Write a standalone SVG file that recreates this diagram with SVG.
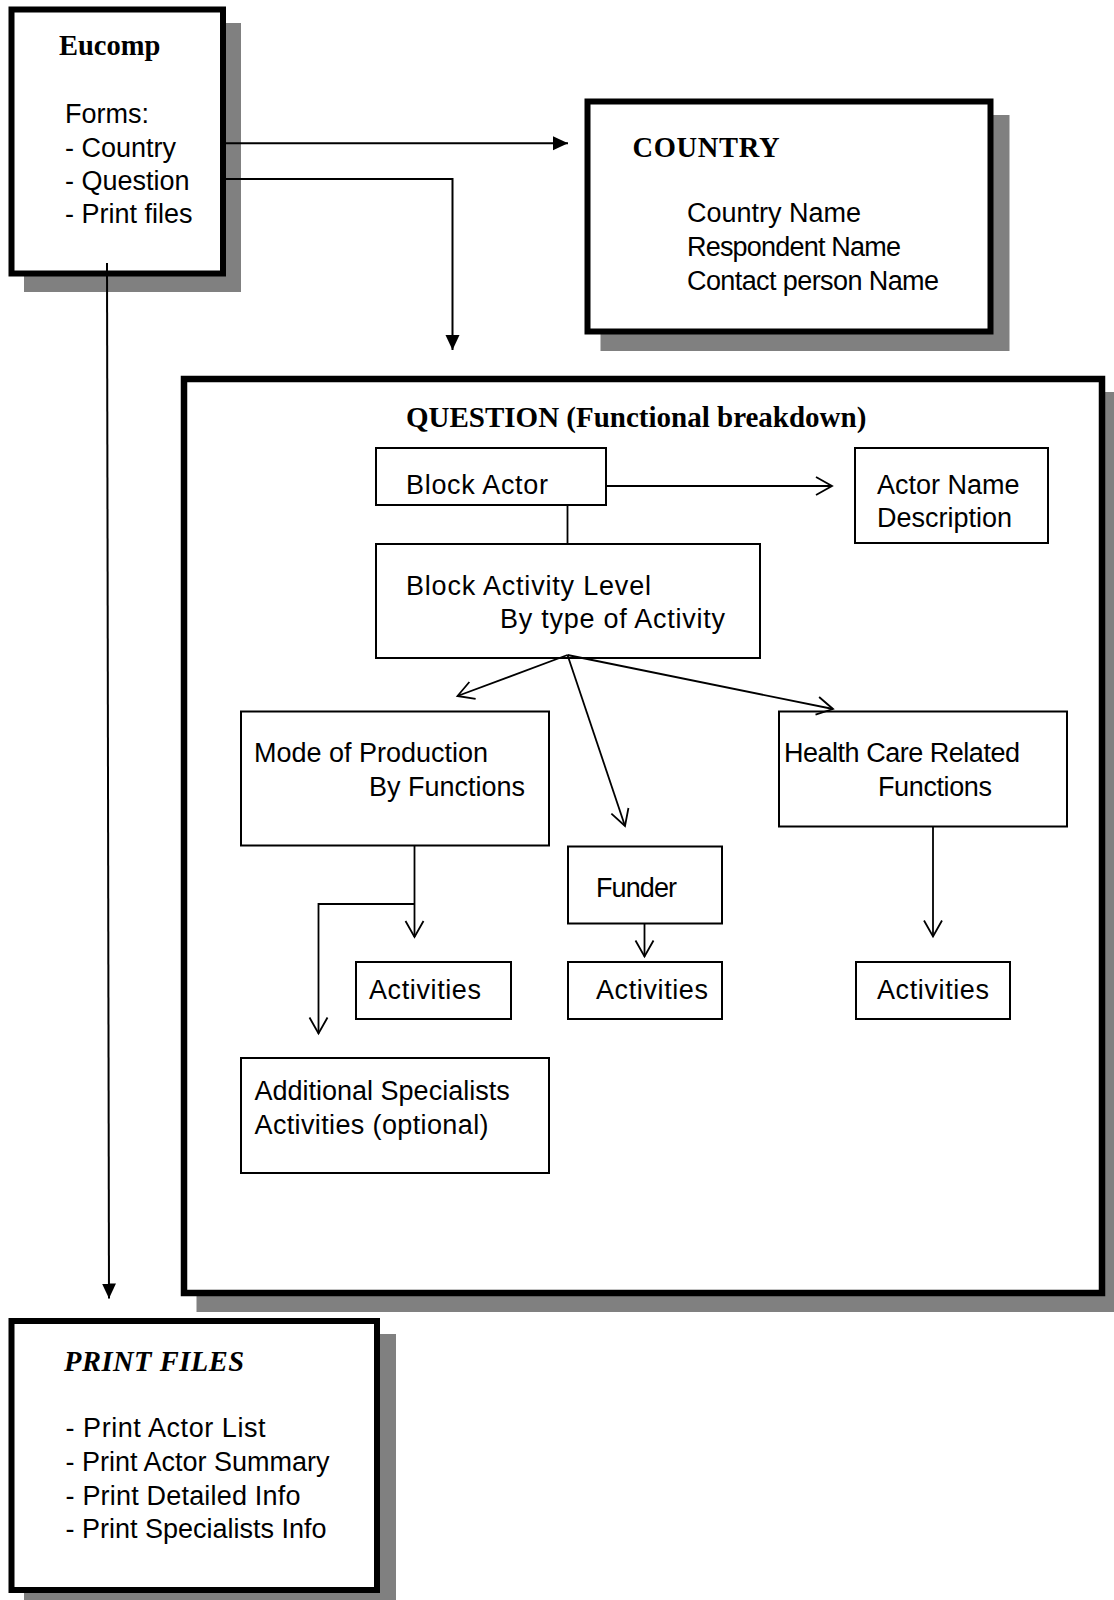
<svg xmlns="http://www.w3.org/2000/svg" width="1114" height="1600" viewBox="0 0 1114 1600">
<style>
.shadow{fill:#808080}
.thick{fill:#fff;stroke:#000;stroke-width:6}
.box{fill:#fff;stroke:#000;stroke-width:2}
.title{font-family:"Liberation Serif","Times New Roman",serif;font-weight:bold;font-size:28.5px;fill:#000}
.t{font-family:"Liberation Sans",Arial,sans-serif;font-size:27px;fill:#000}
.outer{stroke:#000;stroke-width:2;fill:none}
.inner{stroke:#000;stroke-width:1.8;fill:none}
</style>
<defs>
<marker id="fa" markerUnits="userSpaceOnUse" markerWidth="18" markerHeight="16" refX="15" refY="7" orient="auto">
<path d="M0,0 L15,7 L0,14 z" fill="#000"/>
</marker>
<marker id="oa" markerUnits="userSpaceOnUse" markerWidth="20" markerHeight="22" refX="17" refY="10" orient="auto">
<path d="M1,1 L17,10 L1,19" fill="none" stroke="#000" stroke-width="1.8"/>
</marker>
</defs>
<rect x="0" y="0" width="1114" height="1600" fill="#fff"/>

<g id="eucomp">
<rect class="shadow" x="24" y="23" width="217" height="269"/>
<rect class="thick" x="11.5" y="9.5" width="211.5" height="264"/>
<text class="title" x="59" y="55">Eucomp</text>
<text class="t" x="65" y="123">Forms:</text>
<text class="t" x="65" y="156.5">- Country</text>
<text class="t" x="65" y="190">- Question</text>
<text class="t" x="65" y="223">- Print files</text>
</g>

<g id="country">
<rect class="shadow" x="600.5" y="115" width="409" height="236"/>
<rect class="thick" x="587.5" y="101.5" width="403" height="230"/>
<text class="title" x="632.5" y="156.5" textLength="147">COUNTRY</text>
<text class="t" x="687" y="222">Country Name</text>
<text class="t" x="687" y="256" textLength="214">Respondent Name</text>
<text class="t" x="687" y="290" textLength="252">Contact person Name</text>
</g>

<g id="question">
<rect class="shadow" x="196.5" y="392" width="925" height="920"/>
<rect class="thick" x="184" y="379" width="918" height="914" style="stroke-width:6.5"/>
<text class="title" x="406" y="427" style="font-size:29px">QUESTION (Functional breakdown)</text>
</g>

<g id="block-actor">
<rect class="box" x="376" y="448" width="230" height="57"/>
<text class="t" x="406" y="493.5" textLength="142">Block Actor</text>
</g>

<g id="actor-name">
<rect class="box" x="855" y="448" width="193" height="95"/>
<text class="t" x="877" y="493.5">Actor Name</text>
<text class="t" x="877" y="526.5">Description</text>
</g>

<g id="block-activity-level">
<rect class="box" x="376" y="544" width="384" height="114"/>
<text class="t" x="406" y="594.5" textLength="245">Block Activity Level</text>
<text class="t" x="500" y="628" textLength="225">By type of Activity</text>
</g>

<g id="mode-of-production">
<rect class="box" x="241" y="711.5" width="308" height="134"/>
<text class="t" x="254" y="762">Mode of Production</text>
<text class="t" x="369" y="796">By Functions</text>
</g>

<g id="health-care">
<rect class="box" x="779" y="711.5" width="288" height="115"/>
<text class="t" x="784" y="762" textLength="236">Health Care Related</text>
<text class="t" x="878" y="796" textLength="114">Functions</text>
</g>

<g id="funder">
<rect class="box" x="568" y="846.5" width="154" height="77"/>
<text class="t" x="596" y="897" textLength="81">Funder</text>
</g>

<g id="activities-1">
<rect class="box" x="356" y="962" width="155" height="57"/>
<text class="t" x="369" y="999" textLength="112">Activities</text>
</g>

<g id="activities-2">
<rect class="box" x="568" y="962" width="154" height="57"/>
<text class="t" x="596" y="999" textLength="112">Activities</text>
</g>

<g id="activities-3">
<rect class="box" x="856" y="962" width="154" height="57"/>
<text class="t" x="877" y="999" textLength="112">Activities</text>
</g>

<g id="additional-specialists">
<rect class="box" x="241" y="1058" width="308" height="115"/>
<text class="t" x="254.5" y="1100">Additional Specialists</text>
<text class="t" x="254.5" y="1134" textLength="234">Activities (optional)</text>
</g>

<g id="print-files">
<rect class="shadow" x="24" y="1334" width="372" height="280"/>
<rect class="thick" x="11.5" y="1321" width="365.5" height="269"/>
<text class="title" x="64" y="1370.5" style="font-style:italic" textLength="180">PRINT FILES</text>
<text class="t" x="65.5" y="1436.5" textLength="200">- Print Actor List</text>
<text class="t" x="65.5" y="1470.5">- Print Actor Summary</text>
<text class="t" x="65.5" y="1504.5" textLength="235">- Print Detailed Info</text>
<text class="t" x="65.5" y="1538">- Print Specialists Info</text>
</g>

<g id="connectors">
<path class="outer" d="M226,143.3 H568" marker-end="url(#fa)"/>
<path class="outer" d="M226,179 H452.5 V350" marker-end="url(#fa)"/>
<path class="outer" d="M107,263 L109,1298.5" marker-end="url(#fa)"/>
<path class="inner" d="M606,486 H832" marker-end="url(#oa)"/>
<path class="inner" d="M567.5,505 V544"/>
<path class="inner" d="M567.5,655 L457.5,696" marker-end="url(#oa)"/>
<path class="inner" d="M567.5,655 L625,826" marker-end="url(#oa)"/>
<path class="inner" d="M567.5,655 L833,709" marker-end="url(#oa)"/>
<path class="inner" d="M414.5,846 V937" marker-end="url(#oa)"/>
<path class="inner" d="M414.5,904 H318.5 V1033.5" marker-end="url(#oa)"/>
<path class="inner" d="M644.5,923.5 V956.5" marker-end="url(#oa)"/>
<path class="inner" d="M933,827 V936.5" marker-end="url(#oa)"/>
</g>
</svg>
